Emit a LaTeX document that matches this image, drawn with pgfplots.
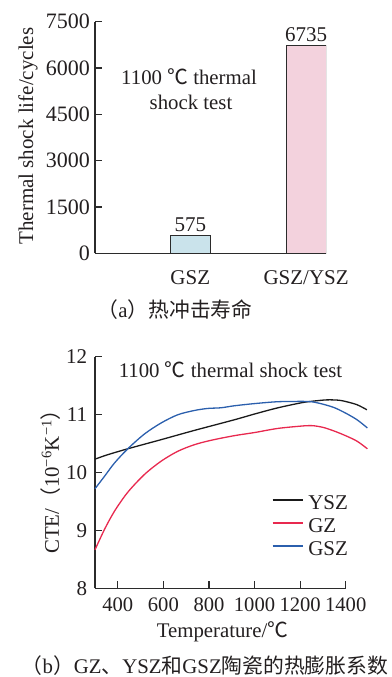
\documentclass[border=0pt]{standalone}
\usepackage{fontspec}
\setmainfont{Liberation Serif}
\newfontfamily\cjk{Noto Sans CJK SC}
\usepackage{pgfplots}
\pgfplotsset{compat=1.18}
\definecolor{txt}{HTML}{231F20}
\definecolor{axc}{HTML}{2B2B2B}
\definecolor{barblue}{HTML}{CAE3EB}
\definecolor{barpink}{HTML}{F3D2DD}
\definecolor{lblack}{HTML}{1A1A1A}
\definecolor{lred}{HTML}{E8294F}
\definecolor{lblue}{HTML}{2B5FAD}
\newcommand{\degC}{{\cjk ℃}}
\newcommand{\fs}[1]{\fontsize{#1bp}{#1bp}\selectfont}
\begin{document}
\begin{tikzpicture}[x=1bp,y=1bp,font=\fs{20.8},text=txt]
% ---------- (a) ----------
\begin{axis}[
  at={(95bp,423.7bp)}, anchor=south west, scale only axis,
  width=231bp, height=231.6bp,
  xmin=0.177, xmax=2.172, ymin=0, ymax=7500,
  axis lines=left, axis line style={-, line width=1.1bp, color=axc},
  xtick={1,2}, xticklabels={GSZ,GSZ/YSZ},
  x tick style={draw=none},
  ytick={0,1500,3000,4500,6000,7500},
  y tick style={line width=1.1bp, color=axc},
  tick align=inside, major tick length=7bp,
  scaled y ticks=false,
  /pgf/number format/1000 sep={},
  /pgf/number format/assume math mode=true,
  xticklabel style={anchor=north, inner sep=0pt, yshift=-10bp, text=txt, font=\fs{21}},
  yticklabel style={anchor=east, inner sep=0pt, xshift=-5bp, text=txt, font=\fs{22}},
  ylabel={Thermal shock life/cycles},
  ylabel style={at={(axis description cs:-0.29,0.506)}, anchor=center, text=txt, font=\fs{21}},
  ybar, bar width=40bp,
  nodes near coords,
  every node near coord/.append style={text=txt, font=\fs{21}},
]
\addplot[bar shift=0pt, fill=barblue, draw=axc, line width=1bp] coordinates {(1,575)};
\addplot[bar shift=0pt, fill=barpink, draw=axc, line width=1bp] coordinates {(2,6735)};
\end{axis}
\node[anchor=base, inner sep=0pt] at (189,592) {1100 \degC\ thermal};
\node[anchor=base, inner sep=0pt] at (191,567) {shock test};
\node[anchor=center, inner sep=0pt] at (175,367.5) {{\cjk （}a{\cjk ）热冲击寿命}};
% ---------- (b) ----------
\begin{axis}[
  at={(95bp,88.7bp)}, anchor=south west, scale only axis,
  width=250.7bp, height=231.6bp,
  xmin=300, xmax=1400, ymin=8, ymax=12,
  clip=false,
  axis lines=left, axis line style={-, line width=1.1bp, color=axc},
  xtick={400,600,800,1000,1200,1400},
  ytick={8,9,10,11,12},
  tick style={line width=1.1bp, color=axc},
  tick align=inside, major tick length=7bp,
  /pgf/number format/1000 sep={},
  /pgf/number format/assume math mode=true,
  xticklabel style={anchor=north, inner sep=0pt, yshift=-9.7bp, text=txt, font=\fs{20.6}},
  yticklabel style={anchor=east, inner sep=0pt, xshift=-7.7bp, text=txt, font=\fs{21}},
  xlabel={Temperature/\degC},
  xlabel style={at={(axis description cs:0.5086,-0.1887)}, anchor=center, text=txt, font=\fs{20.8}},
  ylabel={CTE/{\cjk （}10\textsuperscript{−6}K\textsuperscript{−1}{\cjk ）}},
  ylabel style={at={(axis description cs:-0.1755,0.483)}, anchor=center, text=txt, font=\fs{20.8}},
  legend style={draw=none, fill=none, at={(axis description cs:0.706,0.403)},
    anchor=north west, inner sep=0pt, outer sep=0pt, row sep=0pt, column sep=5bp,
    nodes={inner sep=0pt, text height=15bp, text depth=8bp, text=txt},
    font=\fs{21}},
  legend cell align=left,
  legend image code/.code={\draw[#1] (0bp,6.5bp) -- (30bp,6.5bp);},
]
\addplot[lblack, line width=1.3bp, smooth, tension=0.5] coordinates {
(300,10.23) (350,10.30) (444,10.41) (590,10.567) (736,10.727) (911,10.91) (1000,11.01)
(1100,11.115) (1200,11.20) (1243,11.226) (1300,11.25) (1331,11.255) (1370,11.248)
(1400,11.226) (1450,11.17) (1493,11.083)};
\addlegendentry{YSZ}
\addplot[lred, line width=1.3bp, smooth, tension=0.5] coordinates {
(300,8.665) (342,9.02) (386,9.335) (444,9.66) (517,9.966) (590,10.195) (663,10.366)
(736,10.48) (809,10.556) (911,10.636) (1000,10.69) (1100,10.76) (1200,10.80)
(1250,10.81) (1300,10.78) (1350,10.715) (1400,10.635) (1450,10.54) (1495,10.41)};
\addlegendentry{GZ}
\addplot[lblue, line width=1.3bp, smooth, tension=0.5] coordinates {
(300,9.72) (342,9.936) (386,10.166) (444,10.41) (517,10.665) (590,10.855) (663,10.997)
(736,11.071) (794,11.106) (853,11.118) (911,11.152) (1000,11.19) (1100,11.222)
(1200,11.228) (1250,11.222) (1300,11.18) (1350,11.12) (1400,11.025) (1450,10.91)
(1495,10.77)};
\addlegendentry{GSZ}
\end{axis}
\node[anchor=base, inner sep=0pt] at (230.5,299) {1100 \degC\ thermal shock test};
\node[anchor=center, inner sep=0pt] at (205,11.5) {{\cjk （}b{\cjk ）}GZ{\cjk 、}YSZ{\cjk 和}GSZ{\cjk 陶瓷的热膨胀系数}};
\pgfresetboundingbox
\path[use as bounding box] (0,0) rectangle (391,677);
\end{tikzpicture}
\end{document}
